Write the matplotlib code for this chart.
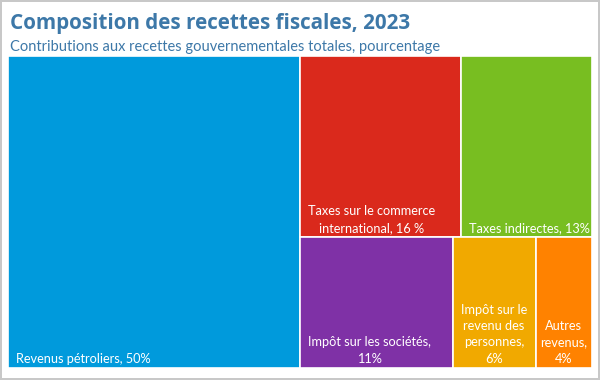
import matplotlib
matplotlib.use('Agg')
import matplotlib.pyplot as plt
from matplotlib.patches import Rectangle

# données (pourcentages)
labels = ['Revenus pétroliers, 50%',
          'Taxes sur le commerce\ninternational, 16 %',
          'Taxes indirectes, 13%',
          'Impôt sur les sociétés,\n11%',
          'Impôt sur le\nrevenu des\npersonnes,\n6%',
          'Autres\nrevenus,\n4%']
values = [50, 16, 13, 11, 6, 4]
colors = ['#009ADC', '#DA291C', '#78BE21', '#7F31A6', '#F1A900', '#FF8200']

W, H = 584, 312  # taille de la zone du treemap (px)


def worst(row, side):
    s = sum(row)
    return max(max(side * side * r / (s * s), s * s / (side * side * r)) for r in row)


def squarify(areas, x, y, w, h):
    # algorithme squarified classique, y vers le bas
    rects = []
    areas = list(areas)
    while areas:
        side = min(w, h)
        row = [areas.pop(0)]
        while areas and worst(row + [areas[0]], side) <= worst(row, side):
            row.append(areas.pop(0))
        s = sum(row)
        if w >= h:  # colonne à gauche
            cw = s / h
            yy = y
            for a in row:
                rects.append((x, yy, cw, a / cw))
                yy += a / cw
            x += cw
            w -= cw
        else:  # rangée en haut
            rh = s / w
            xx = x
            for a in row:
                rects.append((xx, y, a / rh, rh))
                xx += a / rh
            y += rh
            h -= rh
    return rects


total = sum(values)
areas = [v / total * W * H for v in values]
rects = squarify(areas, 0, 0, W, H)

fig = plt.figure(figsize=(6, 3.8), dpi=100)
fig.patch.set_edgecolor('#c8c8c8')
fig.patch.set_linewidth(1.5)
ax = fig.add_axes([8 / 600, 12 / 380, W / 600, H / 380])
ax.set_xlim(0, W)
ax.set_ylim(H, 0)
ax.set_axis_off()

for (x, y, w, h), lab, c in zip(rects, labels, colors):
    ax.add_patch(Rectangle((x, y), w, h, facecolor=c, edgecolor='white', linewidth=1.2))
    pad = 8 if w > 80 else 4
    ax.text(x + pad, y + h - 3, lab, ha='left', va='bottom', multialignment='center',
            fontsize=9.2, family='Lato', color='white', linespacing=1.45)

fig.text(10 / 600, 1 - 29 / 380, 'Composition des recettes fiscales, 2023', fontsize=14.9,
         family='Open Sans', fontweight='bold', color='#3D78A8')
fig.text(10 / 600, 1 - 51 / 380, 'Contributions aux recettes gouvernementales totales, pourcentage',
         fontsize=10.5, family='Lato', color='#3D78A8')

fig.savefig('out.png', dpi=100, edgecolor=fig.get_edgecolor())
